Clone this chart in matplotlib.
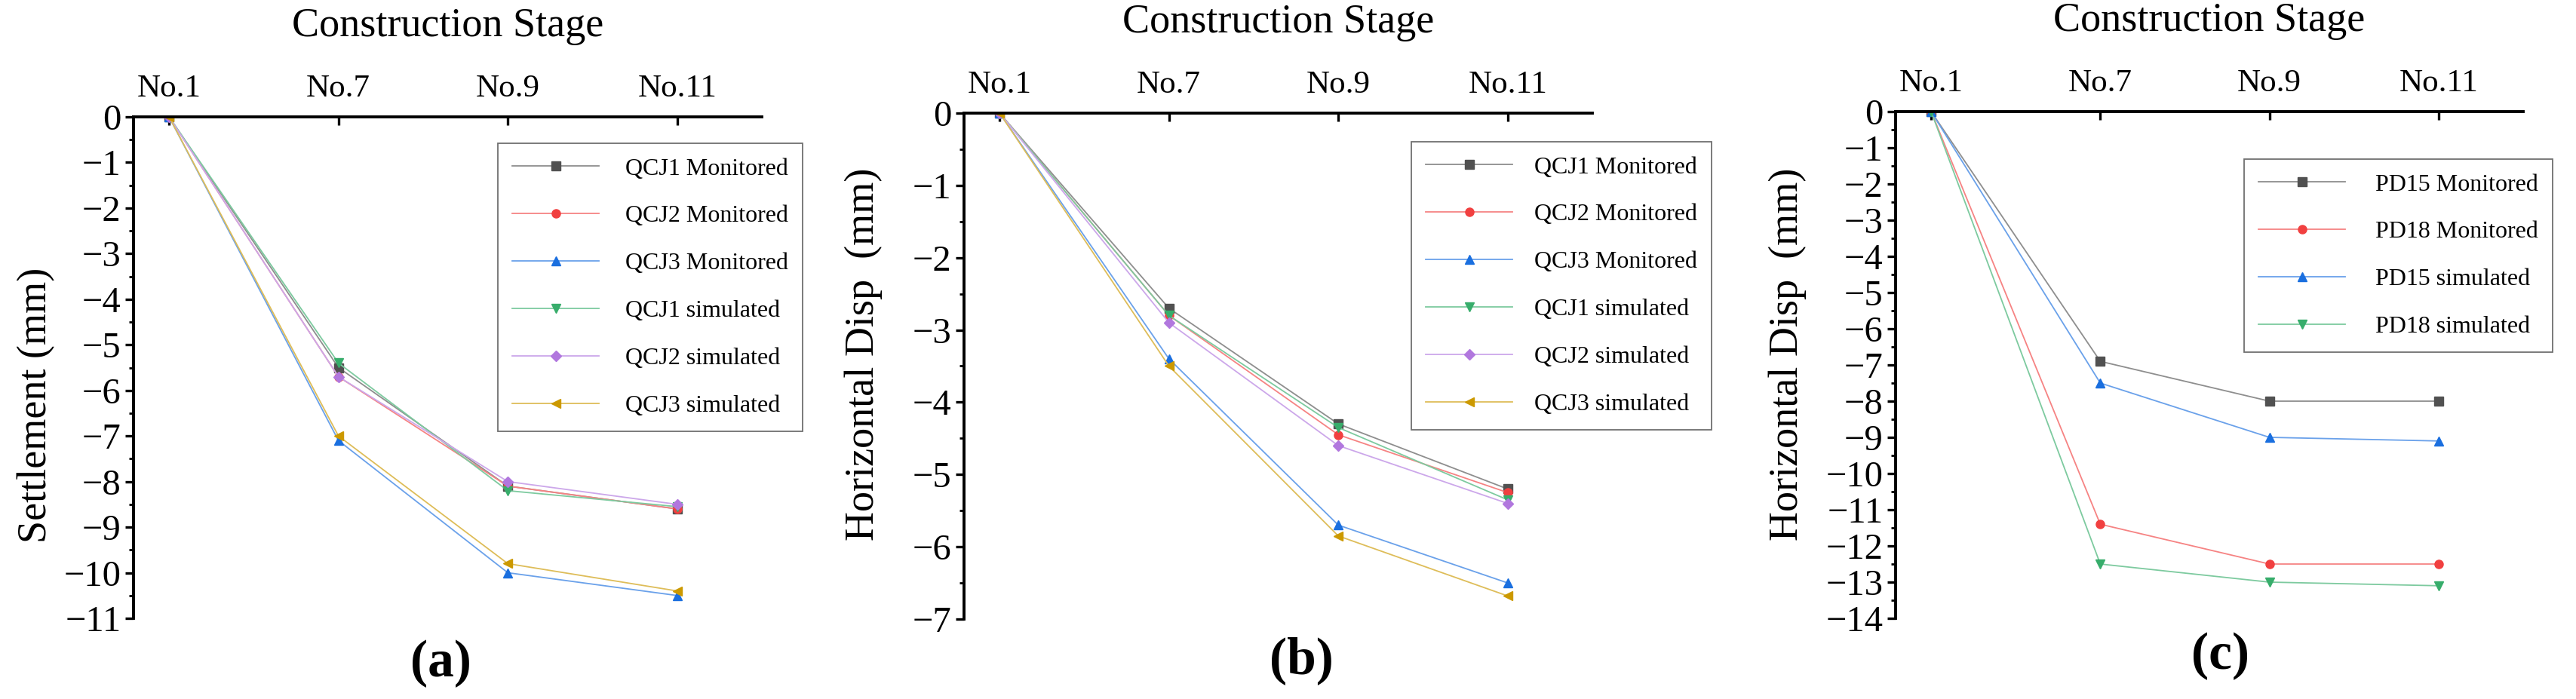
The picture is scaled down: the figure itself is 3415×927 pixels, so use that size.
import matplotlib
matplotlib.use('Agg')
import matplotlib.pyplot as plt
from matplotlib.ticker import MultipleLocator

plt.rcParams['font.family'] = ['Liberation Serif', 'DejaVu Serif']

stages = ['No.1', 'No.7', 'No.9', 'No.11']

# (a) settlement
qcj1_mon_a = [0, -5.5, -8.1, -8.6]
qcj2_mon_a = [0, -5.7, -8.1, -8.6]
qcj3_mon_a = [0, -7.1, -10.0, -10.5]
qcj1_sim_a = [0, -5.4, -8.2, -8.55]
qcj2_sim_a = [0, -5.7, -8.0, -8.5]
qcj3_sim_a = [0, -7.0, -9.8, -10.4]

# (b) horizontal disp QCJ
qcj1_mon_b = [0, -2.7, -4.3, -5.2]
qcj2_mon_b = [0, -2.8, -4.45, -5.25]
qcj3_mon_b = [0, -3.4, -5.7, -6.5]
qcj1_sim_b = [0, -2.8, -4.35, -5.35]
qcj2_sim_b = [0, -2.9, -4.6, -5.4]
qcj3_sim_b = [0, -3.5, -5.85, -6.68]

# (c) horizontal disp PD
pd15_mon = [0, -6.9, -8.0, -8.0]
pd18_mon = [0, -11.4, -12.5, -12.5]
pd15_sim = [0, -7.5, -9.0, -9.1]
pd18_sim = [0, -12.5, -13.0, -13.1]

labels_qcj = ['QCJ1 Monitored', 'QCJ2 Monitored', 'QCJ3 Monitored',
              'QCJ1 simulated', 'QCJ2 simulated', 'QCJ3 simulated']
labels_pd = ['PD15 Monitored', 'PD18 Monitored', 'PD15 simulated', 'PD18 simulated']

# origin-like palette
black = '#515151'
red = '#F14040'
blue = '#1A6FDF'
green = '#37AD6B'
purple = '#B177DE'
gold = '#CC9900'


def lighter(c, f=0.35):
    r, g, b = matplotlib.colors.to_rgb(c)
    return (r + (1 - r) * f, g + (1 - g) * f, b + (1 - b) * f)


def draw(ax, series, labels, colors, markers, ymin, ylabel, ylab_x, ylab_y, leg_xy, hpad):
    x = list(range(len(stages)))
    for ys, lab, c, m in zip(series, labels, colors, markers):
        ms = 7 if m == 'D' else 8
        ax.plot(x, ys, color=lighter(c), lw=1.3, marker=m, ms=ms,
                mfc=c, mec=c, label=lab)
    ax.set_xlim(-0.21, 3.5)
    ax.set_ylim(ymin, 0)
    ax.set_xticks(x)
    ax.set_xticklabels(stages)
    ax.xaxis.tick_top()
    ax.xaxis.set_label_position('top')
    ax.set_xlabel('Construction Stage', fontsize=39, labelpad=36)
    ax.yaxis.set_major_locator(MultipleLocator(1))
    ax.yaxis.set_minor_locator(MultipleLocator(0.5))
    ax.set_ylabel(ylabel, fontsize=39, va='center')
    ax.yaxis.set_label_coords(ylab_x, ylab_y)
    for s in ['right', 'bottom']:
        ax.spines[s].set_visible(False)
    for s in ['left', 'top']:
        ax.spines[s].set_linewidth(2.8)
    ax.tick_params(axis='x', direction='in', length=8, width=2.4, labelsize=31, pad=13)
    ax.tick_params(axis='y', which='major', direction='out', length=8, width=2.4,
                   labelsize=35, pad=4)
    ax.tick_params(axis='y', which='minor', direction='out', length=4.5, width=2.0)
    leg = ax.legend(loc='upper left', bbox_to_anchor=leg_xy,
                    bbox_transform=ax.figure.transFigure, fontsize=23,
                    frameon=True, fancybox=False, framealpha=1, edgecolor='#707070',
                    borderpad=0.6, labelspacing=1.05, handlelength=3.6,
                    handletextpad=hpad, numpoints=1, borderaxespad=0)
    leg.get_frame().set_linewidth(1.3)


W, H = 3415, 927
fig = plt.figure(figsize=(W / 100, H / 100), dpi=100)

ax_a = fig.add_axes([177 / W, 1 - 820 / H, 833 / W, 665 / H])
ax_b = fig.add_axes([1278 / W, 1 - 821 / H, 833 / W, 671 / H])
ax_c = fig.add_axes([2513 / W, 1 - 820 / H, 832 / W, 672 / H])

draw(ax_a, [qcj1_mon_a, qcj2_mon_a, qcj3_mon_a, qcj1_sim_a, qcj2_sim_a, qcj3_sim_a],
     labels_qcj, [black, red, blue, green, purple, gold], ['s', 'o', '^', 'v', 'D', '<'],
     -11, 'Settlement (mm)', -0.155, 0.425, (660 / W, 1 - 190 / H), 1.1)
draw(ax_b, [qcj1_mon_b, qcj2_mon_b, qcj3_mon_b, qcj1_sim_b, qcj2_sim_b, qcj3_sim_b],
     labels_qcj, [black, red, blue, green, purple, gold], ['s', 'o', '^', 'v', 'D', '<'],
     -7, 'Horizontal Disp  (mm)', -0.16, 0.523, (1871 / W, 1 - 188 / H), 0.9)
draw(ax_c, [pd15_mon, pd18_mon, pd15_sim, pd18_sim],
     labels_pd, [black, red, blue, green], ['s', 'o', '^', 'v'],
     -14, 'Horizontal Disp  (mm)', -0.172, 0.521, (2975 / W, 1 - 211 / H), 1.25)

fig.text(584 / W, 1 - 880 / H, '(a)', fontsize=50, fontweight='bold', ha='center', va='center')
fig.text(1725 / W, 1 - 876 / H, '(b)', fontsize=50, fontweight='bold', ha='center', va='center')
fig.text(2943 / W, 1 - 870 / H, '(c)', fontsize=50, fontweight='bold', ha='center', va='center')

fig.savefig('out.png', dpi=100)
